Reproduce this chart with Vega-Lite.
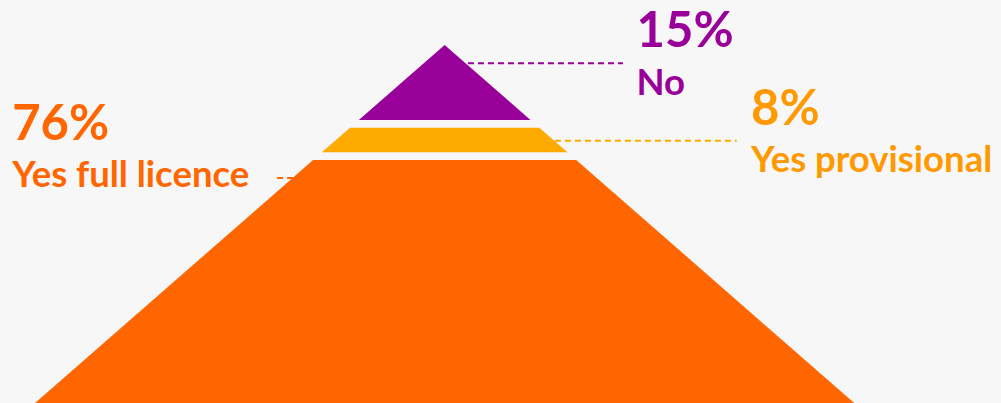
{
  "$schema": "https://vega.github.io/schema/vega-lite/v6.json",
  "width": 1001,
  "height": 403,
  "autosize": {"type": "fit", "contains": "padding"},
  "padding": 0,
  "background": "#f7f7f7",
  "config": {"view": {"stroke": null}},
  "resolve": {"scale": {"color": "independent"}},
  "datasets": {
    "shape": [
      {"segment": "No", "depth": 0, "left": 0, "right": 0},
      {"segment": "No", "depth": 20.95, "left": -23.97, "right": 23.97},
      {"segment": "Yes provisional", "depth": 23.1, "left": -26.43, "right": 26.43},
      {"segment": "Yes provisional", "depth": 29.97, "left": -34.29, "right": 34.29},
      {"segment": "Yes full licence", "depth": 32.12, "left": -36.75, "right": 36.75},
      {"segment": "Yes full licence", "depth": 100, "left": -114.4, "right": 114.4}
    ],
    "labels": [
      {"segment": "No", "pct": "15%", "lx": 53.6, "pctDepth": 0.47, "nameDepth": 13.97, "leadDepth": 5.11, "leadFrom": 6.51, "leadTo": 49.8},
      {"segment": "Yes provisional", "pct": "8%", "lx": 85.6, "pctDepth": 22.35, "nameDepth": 35.56, "leadDepth": 26.73, "leadFrom": 30.8, "leadTo": 81.56},
      {"segment": "Yes full licence", "pct": "76%", "lx": -120.8, "pctDepth": 26.6, "nameDepth": 39.6, "leadDepth": 37.15, "leadFrom": -46.8, "leadTo": -41.8}
    ]
  },
  "layer": [
    {
      "data": {"name": "labels"},
      "mark": {"type": "rule", "strokeWidth": 2, "strokeDash": [6, 4]},
      "encoding": {
        "x": {"field": "leadFrom", "type": "quantitative", "scale": {"domain": [-124.2, 155.4], "nice": false, "zero": false}, "axis": null},
        "x2": {"field": "leadTo"},
        "y": {"field": "leadDepth", "type": "quantitative", "scale": {"domain": [-12.57, 100], "reverse": true, "nice": false, "zero": false}, "axis": null},
        "color": {"field": "segment", "type": "nominal", "legend": null,
          "scale": {"domain": ["No", "Yes provisional", "Yes full licence"], "range": ["#990099", "#ffaa00", "#ff6600"]}}
      }
    },
    {
      "data": {"name": "shape"},
      "mark": {"type": "area", "orient": "horizontal", "opacity": 1},
      "encoding": {
        "y": {"field": "depth", "type": "quantitative"},
        "x": {"field": "left", "type": "quantitative", "stack": null},
        "x2": {"field": "right"},
        "color": {"field": "segment", "type": "nominal", "legend": null,
          "scale": {"domain": ["No", "Yes provisional", "Yes full licence"], "range": ["#990099", "#ffaa00", "#ff6600"]}}
      }
    },
    {
      "data": {"name": "labels"},
      "mark": {"type": "text", "align": "left", "baseline": "alphabetic", "font": "Lato", "fontWeight": "bold", "fontSize": 49},
      "encoding": {
        "x": {"field": "lx", "type": "quantitative"},
        "y": {"field": "pctDepth", "type": "quantitative"},
        "text": {"field": "pct"},
        "color": {"field": "segment", "type": "nominal", "legend": null,
          "scale": {"domain": ["No", "Yes provisional", "Yes full licence"], "range": ["#990099", "#ff9900", "#ff6600"]}}
      }
    },
    {
      "data": {"name": "labels"},
      "mark": {"type": "text", "align": "left", "baseline": "alphabetic", "font": "Lato", "fontWeight": "bold", "fontSize": 36.5},
      "encoding": {
        "x": {"field": "lx", "type": "quantitative"},
        "y": {"field": "nameDepth", "type": "quantitative"},
        "text": {"field": "segment"},
        "color": {"field": "segment", "type": "nominal", "legend": null,
          "scale": {"domain": ["No", "Yes provisional", "Yes full licence"], "range": ["#990099", "#ff9900", "#ff6600"]}}
      }
    }
  ]
}
